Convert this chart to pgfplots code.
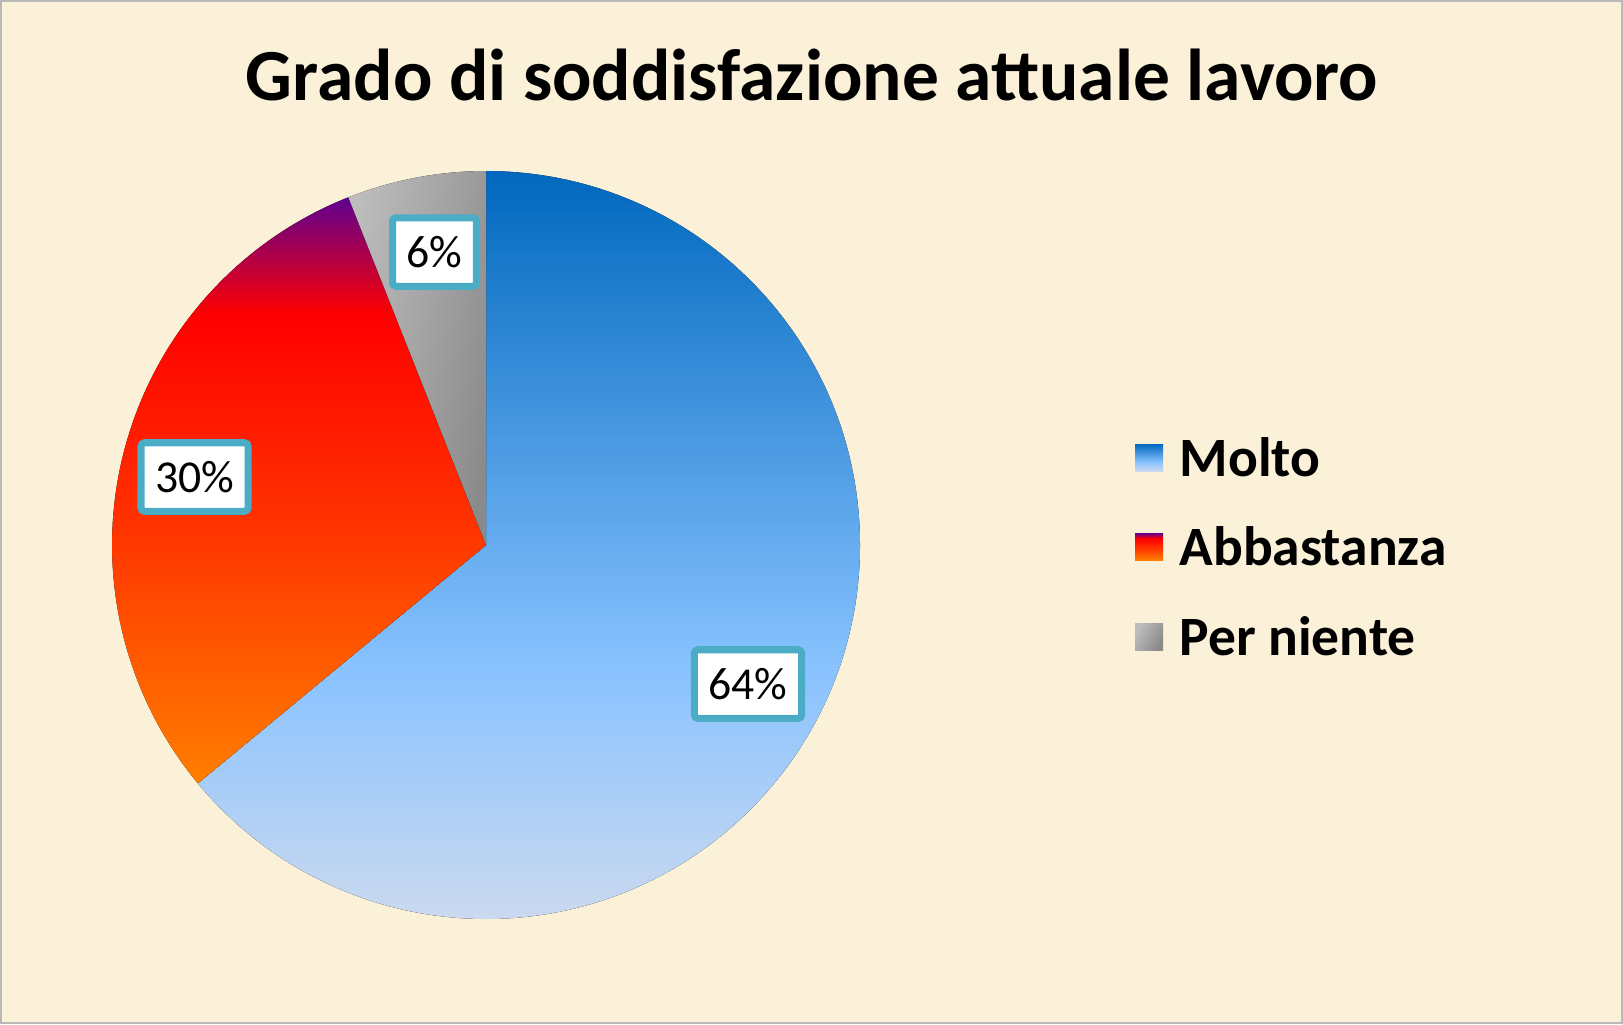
\documentclass[border=0pt]{standalone}
\usepackage{pgfplots}
\usepackage{pgfplotstable}
\pgfplotsset{compat=1.18}
\usepackage{fontspec}
\setmainfont{Carlito}
\definecolor{bg}{HTML}{FBF0D8}
\definecolor{mT}{HTML}{0068BE}
\definecolor{mM}{HTML}{88C2FF}
\definecolor{mB}{HTML}{CBD9EF}
\definecolor{aT}{HTML}{5E0090}
\definecolor{aR}{HTML}{FF0000}
\definecolor{aM}{HTML}{FF3300}
\definecolor{aB}{HTML}{FF7E00}
\definecolor{gL}{HTML}{BDBDBD}
\definecolor{gD}{HTML}{8A8A8A}
\definecolor{lbl}{HTML}{4BACC6}
\pgfdeclareverticalshading{molto}{100bp}{color(0bp)=(mB); color(25bp)=(mB); color(42bp)=(mM); color(75bp)=(mT); color(100bp)=(mT)}
\pgfdeclareverticalshading{abba}{100bp}{color(0bp)=(aB); color(25bp)=(aB); color(47bp)=(aM); color(65bp)=(aR); color(75bp)=(aT); color(100bp)=(aT)}
\pgfplotstableread{
label value
Molto 64
Abbastanza 30
Perniente 6
}\piedata
\begin{document}
\begin{tikzpicture}
\pgfplotstablegetelem{0}{value}\of\piedata \let\vA\pgfplotsretval
\pgfplotstablegetelem{1}{value}\of\piedata \let\vB\pgfplotsretval
\pgfplotstablegetelem{2}{value}\of\piedata \let\vC\pgfplotsretval
\pgfmathsetmacro\angA{90-3.6*\vA}
\pgfmathsetmacro\angB{\angA-3.6*\vB}
\pgfmathsetmacro\angC{\angB-3.6*\vC}
\begin{axis}[scale only axis, width=16.23cm, height=10.24cm,
  xmin=0, xmax=1623, ymin=0, ymax=1024, hide axis, clip=false]
% background
\fill[bg, draw=gray!55, line width=0.6pt] (axis cs:1,1) rectangle (axis cs:1622,1023);
% sectors
\fill[shading=molto] (axis cs:486,479) -- ++(90:3.74cm) arc[start angle=90, end angle=\angA, radius=3.74cm] -- cycle;
\fill[shading=abba] (axis cs:486,479) -- ++(\angA:3.74cm) arc[start angle=\angA, end angle=\angB, radius=3.74cm] -- cycle;
\fill[left color=gL, right color=gD, shading angle=80] (axis cs:486,479) -- ++(\angB:3.74cm) arc[start angle=\angB, end angle=\angC, radius=3.74cm] -- cycle;
% data labels
\tikzset{dl/.style={fill=white, draw=lbl, line width=2pt, rounded corners=1pt, inner xsep=4pt, minimum height=19.5pt, font=\fontsize{13}{15}\selectfont}}
\node[dl] at (axis cs:748,340) {\vA\%};
\node[dl] at (axis cs:194.5,547) {\vB\%};
\node[dl] at (axis cs:434.5,772) {\vC\%};
% title
\node[font=\bfseries\fontsize{20.9}{25}\selectfont] at (axis cs:812,949) {Grado di soddisfazione attuale lavoro};
% legend
\fill[shading=molto] (axis cs:1135,553) rectangle (axis cs:1163,580);
\fill[shading=abba] (axis cs:1135,464) rectangle (axis cs:1163,491);
\fill[left color=gL, right color=gD, shading angle=60] (axis cs:1135,374) rectangle (axis cs:1163,401);
\tikzset{lg/.style={anchor=west, font=\bfseries\fontsize{15.8}{19}\selectfont, inner sep=0pt}}
\node[lg] at (axis cs:1179,566.5) {Molto};
\node[lg] at (axis cs:1179,477.5) {Abbastanza};
\node[lg] at (axis cs:1179,387.5) {Per niente};
\end{axis}
\end{tikzpicture}
\end{document}
